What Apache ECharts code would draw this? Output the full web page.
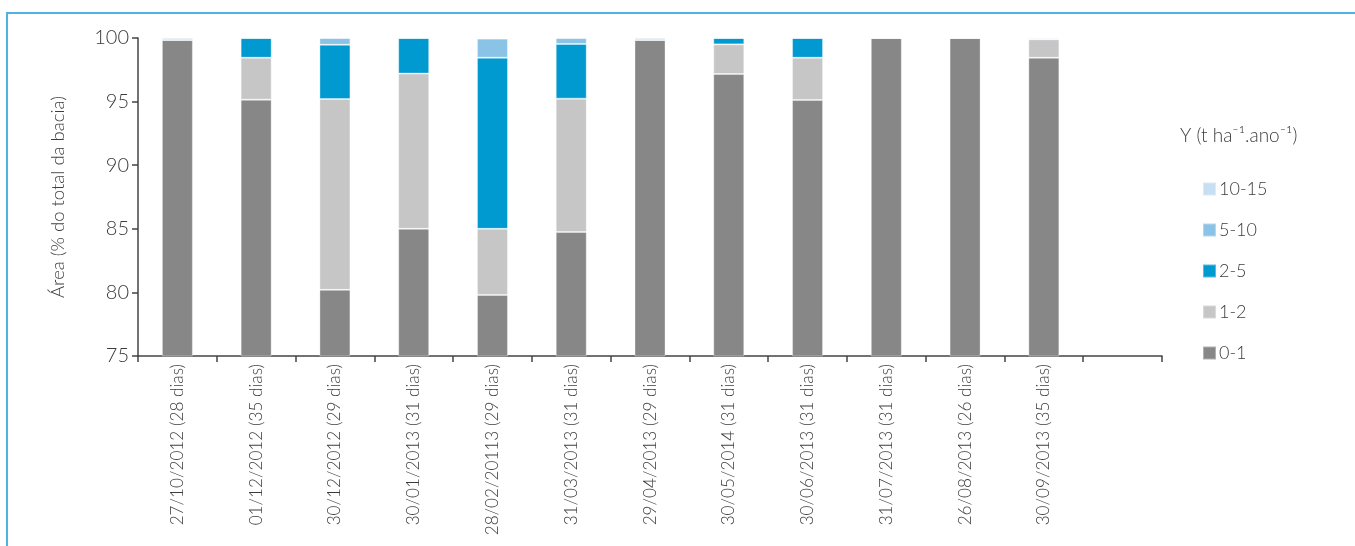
<!DOCTYPE html>
<html>
<head>
<meta charset="utf-8">
<script src="https://cdn.jsdelivr.net/npm/echarts@6/dist/echarts.min.js"></script>
<style>html,body{margin:0;padding:0;background:#fff}#c{width:1355px;height:546px}</style>
</head>
<body>
<div id="c"></div>
<script>
const categories = ['27/10/2012 (28 dias)','01/12/2012 (35 dias)','30/12/2012 (29 dias)','30/01/2013 (31 dias)','28/02/20113 (29 dias)','31/03/2013 (31 dias)','29/04/2013 (29 dias)','30/05/2014 (31 dias)','30/06/2013 (31 dias)','31/07/2013 (31 dias)','26/08/2013 (26 dias)','30/09/2013 (35 dias)',''];
const s01   = [99.85, 95.15, 80.2, 85.0, 79.8, 84.75, 99.85, 97.17, 95.13, 100, 100, 98.45, null];
const s12   = [0, 3.3, 15.0, 12.2, 5.2, 10.48, 0, 2.33, 3.32, 0, 0, 1.45, null];
const s25   = [0, 1.55, 4.27, 2.8, 13.45, 4.3, 0, 0.5, 1.55, 0, 0, 0, null];
const s510  = [0.15, 0, 0.53, 0, 1.5, 0.47, 0.15, 0, 0, 0, 0, 0.1, null];
const s1015 = [0, 0, 0, 0, 0.05, 0, 0, 0, 0, 0, 0, 0, null];
const yTicks = [75, 80, 85, 90, 95, 100];
const seriesNames = ['0-1','1-2','2-5','5-10','10-15'];
const colors = ['#878787','#c6c6c6','#009ad0','#8bc3e6','#c6dff2'];
const font = 'Lato';
const chart = echarts.init(document.getElementById('c'));
const dataSets = [s01, s12, s25, s510, s1015];
chart.setOption({
  animation: false,
  textStyle: {fontFamily: font},
  grid: {left: 138, right: 193, top: 38, bottom: 190, containLabel: false, outerBoundsMode: 'none'},
  legend: {
    orient: 'vertical', left: 1197, top: 175, itemGap: 23, itemWidth: 13, itemHeight: 13,
    icon: 'rect', data: ['10-15','5-10','2-5','1-2','0-1'],
    textStyle: {fontFamily: font, fontSize: 18, color: '#3c3c3c', fontWeight: 300, padding: [0,0,0,-2]}
  },
  graphic: [
    {type: 'rect', shape: {x: 7, y: 13, width: 1400, height: 600}, style: {fill: 'none', stroke: '#4fb3df', lineWidth: 2}},
    {type: 'text', left: 1180, top: 126, style: {text: 'Y (t ha\u207B\u00B9.ano\u207B\u00B9)', fontFamily: font, fontSize: 19, fontWeight: 300, fill: '#3c3c3c'}}
  ],
  xAxis: {
    type: 'category', data: categories,
    axisLine: {lineStyle: {color: '#444', width: 1.5}},
    axisTick: {show: true, length: 6, alignWithLabel: false, lineStyle: {color: '#444', width: 1.5}},
    axisLabel: {rotate: 90, interval: 0, fontFamily: font, fontSize: 17.2, fontWeight: 300, color: '#3c3c3c', margin: 8}
  },
  yAxis: {
    type: 'value', min: 75, max: 100, interval: 5,
    name: 'Área (% do total da bacia)', nameLocation: 'middle', nameGap: 70,
    nameTextStyle: {fontFamily: font, fontSize: 18.5, fontWeight: 300, color: '#3c3c3c'},
    splitLine: {show: false},
    axisLine: {show: true, lineStyle: {color: '#444', width: 1.5}},
    axisTick: {show: true, length: 6, lineStyle: {color: '#444', width: 1.5}},
    axisLabel: {fontFamily: font, fontSize: 20, fontWeight: 300, color: '#3c3c3c', margin: 9,
      formatter: v => yTicks.includes(v) ? String(v) : ''}
  },
  series: seriesNames.map((n, i) => ({
    name: n, type: 'bar', stack: 'a', barWidth: 31,
    itemStyle: {color: colors[i], borderColor: 'rgba(255,255,255,0.35)', borderWidth: 1},
    data: dataSets[i]
  }))
});
</script>
</body>
</html>
